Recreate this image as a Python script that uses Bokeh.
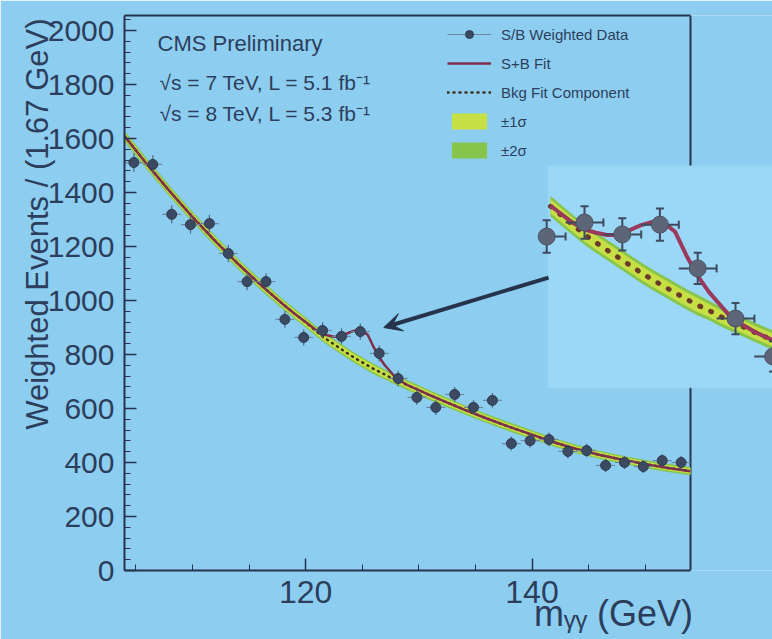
import numpy as np
from bokeh.plotting import figure
from bokeh.models import (Range1d, LinearAxis, FixedTicker, SingleIntervalTicker, Span,
                          BoxAnnotation, Label, Legend, LegendItem, Arrow, VeeHead,
                          ColumnDataSource)
from bokeh.embed import file_html
from bokeh.resources import INLINE

# ---------------- data ----------------
mass = [104.83, 106.50, 108.17, 109.83, 111.50, 113.17, 114.83, 116.50, 118.17, 119.83,
        121.50, 123.17, 124.83, 126.50, 128.17, 129.83, 131.50, 133.17, 134.83, 136.50,
        138.17, 139.83, 141.50, 143.17, 144.83, 146.50, 148.17, 149.83, 151.50, 153.17]
events = [1511, 1504, 1319, 1281, 1285, 1174, 1070, 1070, 930, 863,
          889, 867, 885, 804, 711, 641, 604, 652, 604, 630,
          470, 481, 485, 441, 444, 389, 400, 385, 407, 400]
errors = [34, 34, 33, 33, 33, 32, 32, 31, 31, 30,
          30, 30, 30, 29, 29, 28, 28, 28, 27, 27,
          26, 26, 26, 25, 25, 25, 24, 24, 24, 24]
BIN_WIDTH = 1.67

fit_mass = [104, 106, 108, 110, 112, 114, 116, 118, 119, 120, 121,
            121.5, 122, 122.5, 123, 123.5, 124, 124.5, 125, 125.5, 126, 126.5,
            127, 127.5, 128, 128.5, 129, 129.5, 130, 131, 132,
            134, 136, 138, 140, 142, 144, 146, 148, 150, 152, 154]
bkg_fit = [1609, 1504, 1404, 1310, 1221, 1137, 1059, 986, 952, 919, 884,
           867, 852, 838, 824, 810, 796, 783, 771, 759, 747, 736,
           726, 715, 705, 696, 686, 677, 668, 649, 631,
           596, 563, 532, 503, 474, 449, 428, 410, 394, 380, 368]
sb_fit = [1609, 1504, 1404, 1310, 1221, 1137, 1059, 986, 952, 920, 888,
          876, 870, 866, 866, 875, 884, 890, 889, 872, 828, 790,
          760, 736, 712, 699, 687, 677, 668, 649, 631,
          596, 563, 532, 503, 474, 449, 428, 410, 394, 380, 368]
band_1sigma = [13, 13, 13, 13, 13, 13, 13, 13, 13, 13, 13,
               13, 13, 13, 13, 13, 13, 13, 13, 13, 13, 13,
               12, 12, 12, 12, 12, 12, 12, 12, 12,
               12, 11, 11, 11, 11, 11, 10, 10, 10, 10, 10]
band_2sigma = [20, 20, 20, 19, 19, 19, 19, 19, 19, 19, 19,
               19, 19, 19, 19, 19, 19, 19, 19, 19, 19, 19,
               18, 18, 18, 18, 18, 18, 18, 18, 18,
               17, 17, 17, 16, 16, 16, 15, 15, 15, 15, 15]

x_ticks = [120, 140]
x_minor_ticks = [105, 110, 115, 125, 130, 135, 145, 150]
X_TITLE = "m\u1d67\u1d67 (GeV)"
Y_TITLE = "Weighted Events / (1.67 GeV)"

# ---------------- layout / style constants ----------------
X_START, X_AXIS_END = 104, 154
PX_PER_GEV = 11.32
PX_PER_EVENT = 0.27
FRAME_W, FRAME_H = 648, 555
INSET_ZOOM = 2.0
INSET_ANCHOR = (121.5, 889)          # data point placed at inset anchor pixel
INSET_ANCHOR_PX = (460, 348)         # frame pixels (from left, from bottom)
INSET_VIEW_X = (119.9, 131.0)        # inset window, in data units
INSET_VIEW_Y = (583, 994)
ARROW_TAIL = (141.46, 1085)
ARROW_TIP = (126.9, 900)
NBSP = "\u00a0"
X_TITLE_PAD = 33     # leading non-breaking spaces: pushes the title to the axis end
Y_TITLE_PAD = 16     # leading non-breaking spaces: pushes the title towards the top

BG = "#8dcef0"
INSET_BG = "#9bd7f7"
AXIS = "#26334c"
TEXT = "#2c3e5c"
C1S = "#c6df45"
C2S = "#86c44c"
SB_COL = "#7e2f4c"
FONT = "Liberation Sans"

x_end = X_START + FRAME_W / PX_PER_GEV
y_max = FRAME_H / PX_PER_EVENT
ipx = INSET_ZOOM * PX_PER_GEV
ipy = INSET_ZOOM * PX_PER_EVENT
ix0 = INSET_ANCHOR[0] - INSET_ANCHOR_PX[0] / ipx
iy0 = INSET_ANCHOR[1] - INSET_ANCHOR_PX[1] / ipy

p = figure(frame_width=FRAME_W, frame_height=FRAME_H,
           x_range=Range1d(X_START, x_end), y_range=Range1d(0, y_max),
           output_backend="svg", toolbar_location=None,
           min_border_left=124, min_border_right=0, min_border_top=15, min_border_bottom=69,
           background_fill_color=BG, border_fill_color=BG, outline_line_color=None)
p.extra_x_ranges = {"ix": Range1d(ix0, ix0 + FRAME_W / ipx)}
p.extra_y_ranges = {"iy": Range1d(iy0, iy0 + FRAME_H / ipy)}
p.grid.visible = False

# ---- axes ----
xa = p.xaxis[0]
xa.bounds = (X_START, X_AXIS_END)
xa.ticker = FixedTicker(ticks=x_ticks, minor_ticks=x_minor_ticks)
ya = p.yaxis[0]
ya.ticker = SingleIntervalTicker(interval=200, num_minor_ticks=5)
for ax in (xa, ya):
    ax.axis_line_color = AXIS
    ax.axis_line_width = 2
    ax.major_tick_line_color = AXIS
    ax.minor_tick_line_color = AXIS
    ax.major_tick_line_width = 1.5
    ax.minor_tick_line_width = 1
    ax.major_tick_out = 0
    ax.minor_tick_out = 0
    ax.major_tick_in = 12
    ax.minor_tick_in = 6
    ax.major_label_text_color = TEXT
    ax.major_label_text_font = FONT
    ax.axis_label_text_color = TEXT
    ax.axis_label_text_font = FONT
    ax.axis_label_text_font_style = "normal"
xa.major_label_text_font_size = "32px"
xa.major_label_standoff = 10
ya.major_label_text_font_size = "30px"
ya.major_label_standoff = 10

ya.axis_label = NBSP * Y_TITLE_PAD + Y_TITLE
ya.axis_label_text_font_size = "31px"
ya.axis_label_standoff = -10
xa.axis_label = NBSP * X_TITLE_PAD + X_TITLE
xa.axis_label_text_font_size = "36px"
xa.axis_label_standoff = -13

top = LinearAxis(ticker=FixedTicker(ticks=[]), bounds=(X_START, X_AXIS_END),
                 axis_line_color=AXIS, axis_line_width=2,
                 major_tick_line_color=None, minor_tick_line_color=None,
                 major_label_text_font_size="0px")
p.add_layout(top, "above")

right_border = Span(location=X_AXIS_END, dimension="height", line_color=AXIS,
                    line_width=2, level="underlay")
p.add_layout(right_border)

# ---- main plot ----
m = np.array(mass)
v = np.array(events)
e = np.array(errors)
hw = BIN_WIDTH / 2
src = ColumnDataSource(dict(m=m, v=v, lo=v - e, hi=v + e, xl=m - hw, xr=m + hw))

fm = np.array(fit_mass)
fb = np.array(bkg_fit)
fsb = np.array(sb_fit)
b1 = np.array(band_1sigma)
b2 = np.array(band_2sigma)
fsrc = ColumnDataSource(dict(m=fm, b=fb, sb=fsb, b1lo=fb - b1, b1hi=fb + b1,
                             b2lo=fb - b2, b2hi=fb + b2))

r_b2 = p.varea(x="m", y1="b2lo", y2="b2hi", source=fsrc, fill_color=C2S)
r_b1 = p.varea(x="m", y1="b1lo", y2="b1hi", source=fsrc, fill_color=C1S)
r_bkg = p.line("m", "b", source=fsrc, line_color="#3a3322", line_width=2.5,
               line_dash="1 5", line_cap="round")
r_sb = p.line("m", "sb", source=fsrc, line_color=SB_COL, line_width=2.5)
p.segment(x0="m", y0="lo", x1="m", y1="hi", source=src, line_color="#55647c", line_width=1.2)
r_xerr = p.segment(x0="xl", y0="v", x1="xr", y1="v", source=src,
                   line_color="#6f86a0", line_width=1.2)
r_pts = p.scatter("m", "v", source=src, size=10, fill_color="#3b4a62",
                  line_color="#2f3b50", line_width=1)

# ---- inset (2x magnified view of the peak region) ----
inset_box = BoxAnnotation(left=INSET_VIEW_X[0], right=None,
                          bottom=INSET_VIEW_Y[0], top=INSET_VIEW_Y[1],
                          x_range_name="ix", y_range_name="iy",
                          fill_color=INSET_BG, fill_alpha=1.0,
                          line_color="#a9def8", line_width=1, level="underlay")
p.add_layout(inset_box)

sel = (m >= INSET_VIEW_X[0] - 0.2) & (m <= INSET_VIEW_X[1])
mi, vi, ei = m[sel], v[sel], e[sel]
isrc = ColumnDataSource(dict(m=mi, v=vi, lo=vi - ei, hi=vi + ei,
                             xl=np.clip(mi - hw, INSET_VIEW_X[0], None), xr=mi + hw,
                             capx=mi + hw))
fsel = (fm >= INSET_VIEW_X[0]) & (fm <= INSET_VIEW_X[1])
ifsrc = ColumnDataSource(dict(m=fm[fsel], b=fb[fsel], sb=fsb[fsel],
                              b1lo=(fb - b1)[fsel], b1hi=(fb + b1)[fsel],
                              b2lo=(fb - b2)[fsel], b2hi=(fb + b2)[fsel]))
kw = dict(x_range_name="ix", y_range_name="iy")
p.varea(x="m", y1="b2lo", y2="b2hi", source=ifsrc, fill_color=C2S, **kw)
p.varea(x="m", y1="b1lo", y2="b1hi", source=ifsrc, fill_color=C1S, **kw)
p.line("m", "b", source=ifsrc, line_color="#6a3a2a", line_width=5,
       line_dash="1 11", line_cap="round", **kw)
p.line("m", "sb", source=ifsrc, line_color="#9a3a5c", line_width=4, **kw)
p.segment(x0="m", y0="lo", x1="m", y1="hi", source=isrc, line_color="#3e4a5e", line_width=2, **kw)
p.segment(x0="xl", y0="v", x1="xr", y1="v", source=isrc, line_color="#3e4a5e", line_width=2, **kw)
p.scatter("m", "lo", source=isrc, marker="dash", size=8, line_color="#3e4a5e", line_width=2, **kw)
p.scatter("m", "hi", source=isrc, marker="dash", size=8, line_color="#3e4a5e", line_width=2, **kw)
p.scatter("capx", "v", source=isrc, marker="dash", angle=np.pi / 2, size=8,
          line_color="#3e4a5e", line_width=2, **kw)
p.scatter("m", "v", source=isrc, size=17, fill_color="#5d6678", line_color="#4a5364",
          line_width=1, **kw)

# ---- arrow ----
p.add_layout(Arrow(end=VeeHead(size=18, fill_color=AXIS, line_color=AXIS),
                   x_start=ARROW_TAIL[0], y_start=ARROW_TAIL[1],
                   x_end=ARROW_TIP[0], y_end=ARROW_TIP[1],
                   line_color=AXIS, line_width=4))

# ---- texts inside the frame ----
def add_label(text, x, y, size):
    p.add_layout(Label(x=x, y=y, x_units="screen", y_units="screen", text=text,
                       text_font=FONT, text_font_size=size, text_color=TEXT,
                       text_align="left", text_baseline="middle"))

add_label("CMS Preliminary", 33, 527, "22px")
add_label("\u221as = 7 TeV, L = 5.1 fb\u207b\u00b9", 35, 488, "21px")
add_label("\u221as = 8 TeV, L = 5.3 fb\u207b\u00b9", 35, 457, "21px")

# ---- legend ----
legend = Legend(items=[
    LegendItem(label="S/B Weighted Data", renderers=[r_xerr, r_pts]),
    LegendItem(label="S+B Fit", renderers=[r_sb]),
    LegendItem(label="Bkg Fit Component", renderers=[r_bkg]),
    LegendItem(label="\u00b11\u03c3", renderers=[r_b1]),
    LegendItem(label="\u00b12\u03c3", renderers=[r_b2]),
], location=(323, 410), glyph_width=44, glyph_height=20, label_height=20,
    spacing=9, padding=0, margin=0, label_standoff=10,
    border_line_color=None, background_fill_alpha=0,
    label_text_font=FONT, label_text_font_size="15px", label_text_color=TEXT)
p.add_layout(legend, "center")

open("out.html", "w").write(file_html(p, INLINE))
